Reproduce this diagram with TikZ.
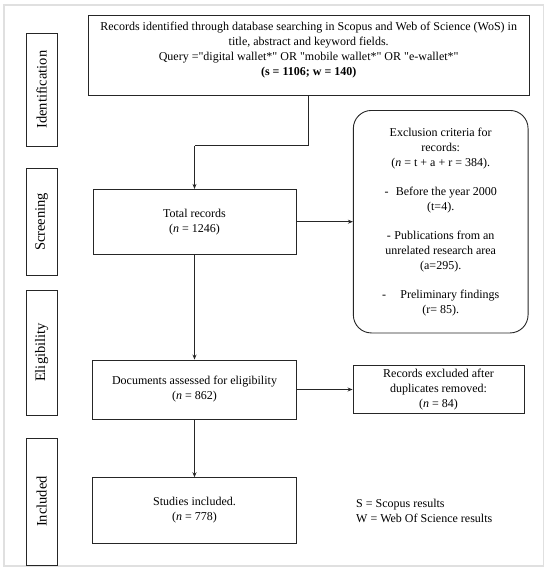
\documentclass[tikz,border=0pt]{standalone}
\usepackage{fontspec}
\setmainfont{Liberation Serif}
\usetikzlibrary{arrows.meta,calc}
\newcommand{\sq}{\textquotedbl}
\begin{document}
\begin{tikzpicture}[x=1pt,y=-1pt,
  every node/.style={font=\fontsize{12}{15}\selectfont},
  box/.style={draw=black!85, line width=0.9pt, align=center, inner sep=0pt},
  phase/.style={draw=black!85, line width=0.9pt, rotate=90, inner sep=0pt,
    minimum height=31pt, font=\fontsize{14.5}{17}\selectfont},
  conn/.style={draw=black!85, line width=0.8pt},
  arr/.style={conn, -{Stealth[length=5pt,width=4pt]}}
]
\useasboundingbox (0,0) rectangle (550,573);
\draw[black!12, line width=1.5pt] (4,5) rectangle (543.5,566);

% phase labels
\node[phase, minimum width=112.5pt] (ident) at (41.7,89.7) {Identification};
\node[phase, minimum width=107.4pt] (screen) at (41.7,222) {Screening};
\node[phase, minimum width=125pt] (elig) at (41.7,352.5) {Eligibility};
\node[phase, minimum width=127pt] (incl) at (41.7,501.5) {Included};

% main boxes
\node[box, minimum width=440.5pt, minimum height=80.3pt] (top) at (308.7,55.15)
  {Records identified through database searching in Scopus and Web of Science (WoS) in\\
   title, abstract and keyword fields.\\
   Query =\sq digital wallet*\sq{} OR \sq mobile wallet*\sq{} OR \sq e-wallet*\sq\\
   \textbf{(s = 1106; w = 140)}\\[-2pt]\mbox{}};
\node[box, minimum width=203pt, minimum height=64.7pt] (total) at (194.5,221.7)
  {Total records\\(\textit{n} = 1246)};
\node[box, minimum width=204pt, minimum height=59pt] (docs) at (194.5,389.5)
  {Documents assessed for eligibility\\(\textit{n} = 862)};
\node[box, minimum width=204pt, minimum height=65.6pt] (studies) at (194.5,510.5)
  {Studies included.\\(\textit{n} = 778)};

% side boxes
\node[box, rounded corners=18pt, minimum width=174.7pt, minimum height=222.5pt] (excl) at (440.7,221.7)
  {Exclusion criteria for\\records:\\(\textit{n} = t + a + r = 384).\\[14pt]
   -\hspace{0.6em}Before the year 2000\\(t=4).\\[14pt]
   -\hspace{0.3em}Publications from an\\unrelated research area\\(a=295).\\[14pt]
   -\hspace{1.2em}Preliminary findings\\(r= 85).};
\node[box, minimum width=171pt, minimum height=47.6pt] (dup) at (438.5,389.5)
  {Records excluded after\\duplicates removed:\\(\textit{n} = 84)};

% legend
\node[anchor=west, align=left, inner sep=0pt] (legend) at (356,510.5)
  {S = Scopus results\\W = Web Of Science results};

% connectors
\coordinate (j1) at (194.5,145.7);
\draw[conn] (top.south) |- (j1);
\draw[arr] (j1) -- (total.north);
\draw[arr] (total.east) -- (excl.west);
\draw[arr] (total.south) -- (docs.north);
\draw[arr] (docs.east) -- (dup.west);
\draw[arr] (docs.south) -- (studies.north);
\end{tikzpicture}
\end{document}
